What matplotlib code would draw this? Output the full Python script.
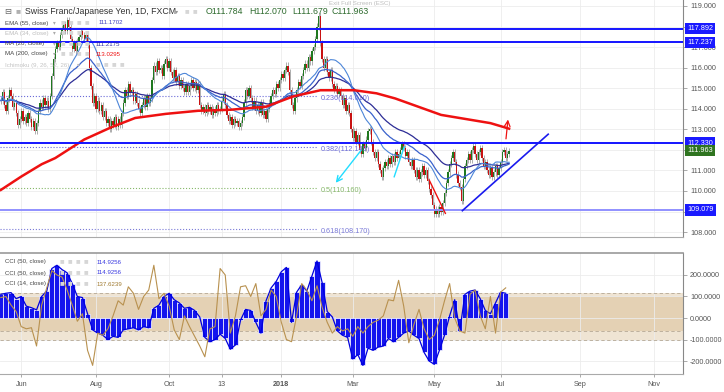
import numpy as np
import pandas as pd
import matplotlib
matplotlib.use("Agg")
import matplotlib.pyplot as plt
import matplotlib.transforms as mtransforms

plt.rcParams['font.family'] = ['Liberation Sans', 'DejaVu Sans']

W, H = 724, 392

# daily closes, CHF/JPY, mid May 2017 -> 10 Jul 2018
closes = [
    114.4, 114.8, 114.2, 113.9, 114.5, 114.9, 114.6, 114.1, 114.3, 113.8,
    113.2, 113.5, 113.9, 113.4, 113.6, 113.3, 113.8, 113.5, 113.1, 113.4,
    112.9, 113.3, 113.9, 114.3, 114.1, 114.5, 114.2, 114.4, 114.0, 114.6,
    115.6, 116.4, 116.9, 117.2, 117.0, 117.6, 117.9, 118.1, 117.8, 118.3,
    118.0, 117.4, 116.9, 117.2, 116.8, 117.3, 117.5, 117.8, 117.6, 117.4,
    117.6, 117.1, 116.0, 115.1, 114.3, 114.6, 114.0, 114.4, 113.9, 114.2,
    113.6, 113.9, 113.3, 113.5, 113.0, 113.4, 113.2, 113.6, 113.1, 113.5,
    113.2, 113.8, 114.3, 114.9, 114.6, 115.2, 114.8, 114.9, 114.4, 114.7,
    114.3, 114.0, 113.8, 114.2, 114.5, 114.1, 114.6, 114.3, 114.5, 115.4,
    116.1, 115.8, 116.3, 115.9, 116.0, 115.6, 116.2, 116.4, 116.0, 116.3,
    115.8, 115.5, 115.9, 115.3, 115.6, 115.1, 115.4, 115.0, 114.8, 115.2,
    114.8, 115.1, 115.4, 115.0, 115.3, 114.9, 115.2, 114.2, 113.9, 114.1,
    113.8, 114.2, 113.9, 114.1, 113.7, 114.0, 113.8, 114.2, 113.9, 114.0,
    114.4, 114.7, 114.2, 113.7, 113.4, 113.6, 113.2, 113.5, 113.3, 113.4,
    113.1, 113.3, 113.6, 114.3, 114.9, 114.6, 115.0, 114.5, 114.1, 114.4,
    113.9, 114.2, 113.8, 114.3, 113.7, 113.9, 113.5, 114.0, 114.3, 114.6,
    114.9, 114.7, 115.2, 115.0, 115.4, 115.7, 115.5, 115.9, 116.1, 115.8,
    114.9, 114.2, 113.9, 114.5, 114.9, 115.3, 115.1, 115.6, 115.9, 116.2,
    116.0, 116.5, 116.3, 116.8, 117.0, 117.4, 118.0, 118.5, 117.2, 116.4,
    116.0, 116.4, 115.8, 115.5, 115.9, 115.2, 114.9, 115.1, 114.7, 114.9,
    114.6, 114.2, 114.5, 113.9, 114.2, 113.8, 113.0, 112.6, 112.9, 112.4,
    112.7, 112.0, 111.8, 112.3, 112.1, 112.5, 112.9, 113.0, 112.4, 111.9,
    111.6, 111.9, 111.3, 111.0, 110.7, 111.1, 111.4, 111.2, 111.6, 111.3,
    111.7, 111.4, 111.9, 111.6, 111.8, 112.0, 112.3, 112.1, 111.7, 111.9,
    111.4, 111.2, 111.5, 111.0, 110.7, 111.0, 110.6, 110.9, 111.2, 110.8,
    111.0, 110.5, 110.1, 109.8, 109.3, 108.9, 109.1, 108.9, 109.2, 109.0,
    109.4, 109.9, 110.4, 110.9, 111.3, 111.6, 111.9, 111.4, 110.8, 110.4,
    110.2, 109.5, 110.6, 111.2, 111.5, 111.8, 111.5, 112.0, 112.2, 111.8,
    111.5, 111.9, 112.1, 111.6, 111.2, 111.4, 111.0, 110.8, 111.1, 110.7,
    110.9, 111.2, 110.8, 111.1, 111.4, 111.9, 112.0, 111.6, 111.8, 111.963,
]

# MA(200) is drawn from points (history before the window is not shown)
ma200_bars = [0, 12, 24, 32, 49, 65, 79, 97, 116, 135, 156, 172, 188, 208, 221, 232, 259, 288, 299]
ma200_vals = [110.05, 110.7, 111.3, 111.6, 112.5, 113.1, 113.55, 113.75, 113.9, 113.95,
              114.1, 114.6, 114.9, 114.9, 114.75, 114.5, 113.7, 113.3, 113.03]

levels = [117.892, 117.237, 112.330, 109.079]
level_line_colors = ['#1414ff', '#1414ff', '#1414ff', '#9090ff']
last_close = 111.963

# price ticks; the ones sitting under a price tag are not visible in the chart
price_ticks = [108, 109, 110, 111, 112, 113, 114, 115, 116, 117, 118, 119]
hidden_ticks = [109, 112, 118]

fib_ratios = ['0.236', '0.382', '0.5', '0.618']
fib_prices = [114.610, 112.149, 110.160, 108.170]
fib_colors = ['#6a6ad8', '#6a6ad8', '#86b86a', '#7a7ad8']

# hand drawn tools (bar index, price)
trend_line = [(271.5, 109.04), (322.0, 112.76)]
red_line = [(252.0, 110.53), (261.5, 108.91)]
red_arrow = [(297.0, 112.40), (298.5, 113.61)]
cyan_arrow = [(212.8, 112.07), (196.0, 110.29)]
cyan_line = [(231.4, 110.69), (237.3, 112.15)]

tick_bars = [12, 56, 99, 130, 165, 207, 255, 294, 341, 384]
tick_labels = ['Jun', 'Aug', 'Oct', '13', '2018', 'Mar', 'May', 'Jul', 'Sep', 'Nov']

# CCI values, one every 3 bars
cci_step = 3
cci50 = [
    110, 115, 118, 90, 100, 55, 48, 38, 100, 125,
    230, 245, 225, 210, 160, 100, 95, 20, -55, -70,
    -80, -100, -85, -90, -55, -50, -45, -55, -40, -45,
    45, 60, 100, 115, 85, 70, 45, 50, 35, 5,
    -90, -110, -100, -75, -95, -145, -125, -10, 40, 35,
    -20, -70, 80, 140, 170, 215, 235, -20, 120, 155,
    125, 195, 265, 165, 30, 5, -60, -80, -90, -190,
    -170, -220, -140, -150, -135, -130, -95, -110, -90, -70,
    -60, -80, -95, -160, -200, -215, -150, -80, 10, 85,
    -60, 110, 125, 130, 90, 35, 20, 70, 120, 115,
]
cci14 = [
    95, 100, 60, 30, -40, -50, -45, -130, 60, 140,
    220, 200, 190, 130, 60, -15, 20, -150, -220, -70,
    -80, -50, 10, 80, 60, 145, 115, 40, 100, 130,
    245, 90, 115, 55, -55, -100, 10, -40, -85, -130,
    -180, -50, -40, 230, 200, -70, 10, 145, 150, 100,
    160, 10, 40, 130, 100, -20, -100, -110, 10, 160,
    130, 80, 150, 50, -20, -70, -40, -60, -50, -85,
    -40, -70, -40, -20, -10, 10, 85, 80, 175, 55,
    -115, -30, 40, -50, -100, -80, -10, 80, 160, 0,
    -60, -70, 110, 130, 10, -50, 100, -70, 120, 140,
]

# ---- derived series
c = np.array(closes)
o = np.r_[c[0], c[:-1]]
idx = np.arange(len(c))
s = pd.Series(c)
ema55 = s.ewm(span=55, adjust=False).mean()
ema34 = s.ewm(span=34, adjust=False).mean()
ma20 = s.rolling(20, min_periods=1).mean()

fig = plt.figure(figsize=(W / 100, H / 100), dpi=100)
ax = fig.add_axes([0, 1 - 237 / H, 683 / W, 237 / H])
ax2 = fig.add_axes([0, 1 - 374 / H, 683 / W, (374 - 253) / H])

# ---- price panel
wick = 0.15
up = c >= o
ax.vlines(idx, np.minimum(o, c) - wick, np.maximum(o, c) + wick, color='#a0a0a0', lw=0.6, zorder=2)
ax.bar(idx[up], (c - o)[up], bottom=o[up], width=0.75, color='#1f781f', lw=0, zorder=3)
ax.bar(idx[~up], (c - o)[~up], bottom=o[~up], width=0.75, color='#c81212', lw=0, zorder=3)

ax.plot(idx, ema55, color='#2d2d96', lw=0.9, zorder=4)
ax.plot(idx, ema34, color='#3a62cc', lw=0.9, zorder=4)
ax.plot(idx, ma20, color='#4d86d8', lw=0.8, zorder=4)
ax.plot(ma200_bars, ma200_vals, color='#ee1111', lw=1.8, zorder=4)

for lvl, col in zip(levels, level_line_colors):
    ax.axhline(lvl, color=col, lw=1.4, zorder=5)

for r, p, col in zip(fib_ratios, fib_prices, fib_colors):
    ax.hlines(p, -0.5, 186, colors=col, linestyles=':', lw=0.8, zorder=1)
    ax.text(188, p - 0.13, f"{r}({p:.3f})", color=col, fontsize=5.2, va='center', zorder=6)

ax.plot(*zip(*trend_line), color='#1a1aee', lw=1.2, zorder=5)
ax.plot(*zip(*red_line), color='#ee1111', lw=1.0, zorder=5)
ax.plot(*zip(*cyan_line), color='#22ddff', lw=1.0, zorder=5)
ax.annotate('', xy=red_arrow[1], xytext=red_arrow[0],
            arrowprops=dict(arrowstyle='->', color='#ee1111', lw=0.9), zorder=6)
ax.annotate('', xy=cyan_arrow[1], xytext=cyan_arrow[0],
            arrowprops=dict(arrowstyle='->', color='#22ddff', lw=1.0), zorder=6)

ax.set_ylim(107.76, 119.29)
ax.set_yticks(price_ticks)
ax.set_yticklabels(['' if t in hidden_ticks else f"{t:.3f}" for t in price_ticks])

# right-side price tags
trans = mtransforms.blended_transform_factory(ax.transAxes, ax.transData)
for lvl in levels:
    ax.text(1.006, lvl, f"{lvl:.3f}", transform=trans, ha='left', va='center', fontsize=5.2,
            color='white', bbox=dict(boxstyle='square,pad=0.3', fc='#1a1aff', ec='none'),
            clip_on=False, zorder=8)
ax.text(1.006, last_close, f"{last_close:.3f}", transform=trans, ha='left', va='center', fontsize=5.2,
        color='white', bbox=dict(boxstyle='square,pad=0.3', fc='#2f7420', ec='none'),
        clip_on=False, zorder=8)

# ---- CCI panel
cx = np.arange(len(cci50)) * cci_step
ax2.axhspan(-100, 100, color='#c8a064', alpha=0.28, lw=0, zorder=0)
ax2.axhspan(-60, 116, color='#c8a064', alpha=0.28, lw=0, zorder=0)
for v in [116, -60, -100]:
    ax2.axhline(v, color='#b5a894', ls=(0, (4, 3)), lw=0.6, zorder=1)
ax2.bar(cx, cci50, width=cci_step, color='#1414ee', edgecolor='white', linewidth=0.5, zorder=2)
ax2.plot(cx, cci50, color='#0000dd', lw=0.9, zorder=3)
ax2.plot(cx, cci14, color='#b8914f', lw=0.8, zorder=4)
ax2.set_ylim(-260, 302)
ax2.set_yticks([-200, -100, 0, 100, 200])
ax2.yaxis.set_major_formatter(plt.FormatStrFormatter('%.4f'))

for a in (ax, ax2):
    a.set_xlim(-0.5, 401.3)
    a.set_xticks(tick_bars)
    a.yaxis.tick_right()
    a.tick_params(axis='y', labelsize=5.2, labelcolor='#555555', color='#888888',
                  length=3, width=0.5, pad=2)
    a.spines['left'].set_visible(False)
    a.spines['right'].set_color('#888888')
    a.spines['bottom'].set_color('#aaaaaa')
    a.grid(color='#ececec', lw=0.6)
    a.set_axisbelow(True)
ax.spines['top'].set_visible(False)
ax.tick_params(axis='x', length=0, labelbottom=False)
ax2.spines['top'].set_color('#999999')
ax2.spines['top'].set_linewidth(1.2)
ax2.set_xticklabels(tick_labels)
ax2.tick_params(axis='x', labelsize=5.2, labelcolor='#555555', color='#888888', length=2, width=0.5, pad=3)
for lab in ax2.get_xticklabels():
    if lab.get_text() == '2018':
        lab.set_fontweight('bold')


# ---- legends (pixel positions)
def ftxt(x, y, t, **kw):
    kw.setdefault('fontsize', 4.4)
    kw.setdefault('color', '#444444')
    fig.text(x / W, 1 - y / H, t, va='center', ha='left', **kw)


def icons(x, y, n):
    for k in range(n):
        ftxt(x + 8 * k, y, '■', color='#d6d6d6', fontsize=5.5)


fig.text(360 / W, 1 - 4 / H, 'Exit Full Screen (ESC)', ha='center', va='center', fontsize=4.4, color='#bdbdbd')

ftxt(4, 12, '⊟', fontsize=6, color='#666666')
ftxt(15, 12, '■', fontsize=6, color='#b0b0b0')
ftxt(25, 12, 'Swiss Franc/Japanese Yen, 1D, FXCM', fontsize=6.3, color='#333333')
ftxt(175, 12, '▾', fontsize=4.5, color='#999999')
icons(185, 12, 2)
ohlc = [('O', '111.784', 206), ('H', '112.070', 249), ('L', '111.679', 292), ('C', '111.963', 332)]
for letter, val, xx in ohlc:
    ftxt(xx, 12, letter + val, fontsize=6.3, color='#2e6b2e')

rows = [
    ('EMA (55, close)', 23, '#444444', '111.1702', '#4040c0', 99),
    ('EMA (34, close)', 33, '#bdbdbd', '', '#4040c0', 99),
    ('MA (20, close)', 44, '#444444', '111.2175', '#2a2aa0', 96),
    ('MA (200, close)', 54, '#444444', '113.0295', '#ee1111', 96),
]
for name, yy, col, val, vcol, vx in rows:
    ftxt(5, yy, name, color=col)
    ftxt(53, yy, '▾', color='#aaaaaa', fontsize=4)
    icons(61, yy, 4)
    if val:
        ftxt(vx, yy, val, color=vcol)
ftxt(5, 65, 'Ichimoku (9, 26, 52, 26)', color='#c4c4c4')
ftxt(77, 65, '▾', color='#bbbbbb', fontsize=4)
icons(96, 65, 4)

cci_rows = [('CCI (50, close)', 262, '114.9256', '#3a3ae0'),
            ('CCI (50, close)', 273, '114.9256', '#3a3ae0'),
            ('CCI (14, close)', 284, '137.6239', '#a07a30')]
for name, yy, val, vcol in cci_rows:
    ftxt(5, yy, name)
    icons(60, yy, 4)
    ftxt(97, yy, val, color=vcol)

fig.savefig('out.png', dpi=100)
